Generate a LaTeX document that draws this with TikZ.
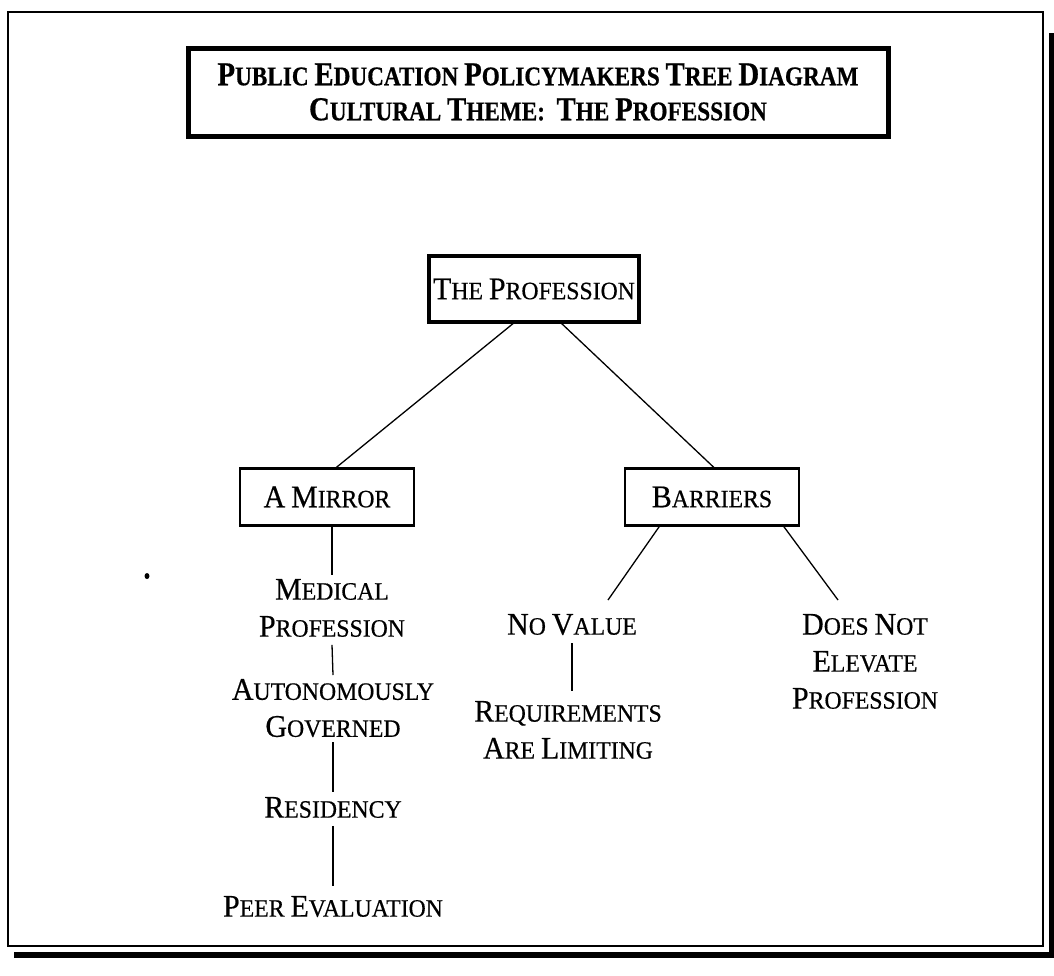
\documentclass[tikz,border=0pt]{standalone}
\usepackage{fontspec}
\setmainfont{Liberation Serif}
\newfontfamily\titlefont{Liberation Serif}[FakeStretch=0.86, FakeBold=0.6]
\newfontfamily\bodyfont{Liberation Serif}[FakeStretch=0.95, FakeBold=0.5]
% fake small caps: \K{X} sets a full-size capital, the rest is set smaller
\newcommand\capsz{31.5}
\newcommand\K[1]{{\fontsize{\capsz}{37}\selectfont #1}}
\tikzset{
  every node/.style={inner sep=0pt, outer sep=0pt},
  label/.style={align=center, font=\bodyfont\renewcommand\capsz{31.5}\fontsize{25}{37}\selectfont},
  box/.style={label, draw, line width=2.5pt, minimum width=174pt, minimum height=57pt},
  rootbox/.style={label, draw, line width=4.5pt, minimum width=210pt, minimum height=66pt},
  titlebox/.style={draw, line width=5pt, minimum width=700pt, minimum height=88pt, align=center,
    font=\titlefont\bfseries\renewcommand\capsz{33.5}\fontsize{27}{35}\selectfont},
  link/.style={line width=1.3pt}
}
\begin{document}
\begin{tikzpicture}[x=1pt, y=-1pt]
\useasboundingbox (0,0) rectangle (1054,975);
% outer frame with a heavy shadow on the right and at the bottom
\draw[line width=2pt] (8,12) rectangle (1043,946);
\fill (1049,33) rectangle (1054,957);
\fill (14,952) rectangle (1054,958);

\node[titlebox] (title) at (538,92)
  {\K{P}UBLIC \K{E}DUCATION \K{P}OLICYMAKERS \K{T}REE \K{D}IAGRAM\\
   \K{C}ULTURAL \K{T}HEME:\ \ \K{T}HE \K{P}ROFESSION};

\node[rootbox] (root) at (534,289) {\K{T}HE \K{P}ROFESSION};
\node[box] (mirror) at (327,497) {\K{A} \K{M}IRROR};
\node[box] (barriers) at (712,497) {\K{B}ARRIERS};

\node[label, anchor=north] (medical) at (332,579) {\K{M}EDICAL\\\K{P}ROFESSION};
\node[label, anchor=north] (auto) at (333,679) {\K{A}UTONOMOUSLY\\\K{G}OVERNED};
\node[label, anchor=north] (resid) at (333,797) {\K{R}ESIDENCY};
\node[label, anchor=north] (peer) at (333,896) {\K{P}EER \K{E}VALUATION};

\node[label, anchor=north] (novalue) at (572,614) {\K{N}O \K{V}ALUE};
\node[label, anchor=north] (req) at (568,701) {\K{R}EQUIREMENTS\\\K{A}RE \K{L}IMITING};
\node[label, anchor=north] (elevate) at (865,614) {\K{D}OES \K{N}OT\\\K{E}LEVATE\\\K{P}ROFESSION};

\coordinate (dot) at (147,576);
\fill (dot) ellipse (2.5pt and 3pt);

\draw[link] ([xshift=-19pt]root.south) -- ([xshift=8pt]mirror.north);
\draw[link] ([xshift=26pt]root.south) -- ([xshift=3pt]barriers.north);
\draw[link] ([xshift=5pt]mirror.south) -- ([yshift=4pt]medical.north);
\draw[link] ([yshift=-8pt]medical.south) -- ([yshift=4pt]auto.north);
\draw[link] ([yshift=-5pt]auto.south) -- ([yshift=5pt]resid.north);
\draw[link] ([yshift=-8pt]resid.south) -- ([yshift=10pt]peer.north);
\draw[link] ([xshift=-52pt]barriers.south) -- ([xshift=36pt,yshift=14pt]novalue.north);
\draw[link] ([xshift=71pt]barriers.south) -- ([xshift=-27pt,yshift=14pt]elevate.north);
\draw[link] ([yshift=-8pt]novalue.south) -- ([yshift=10pt]novalue.south |- req.north);
\end{tikzpicture}
\end{document}
